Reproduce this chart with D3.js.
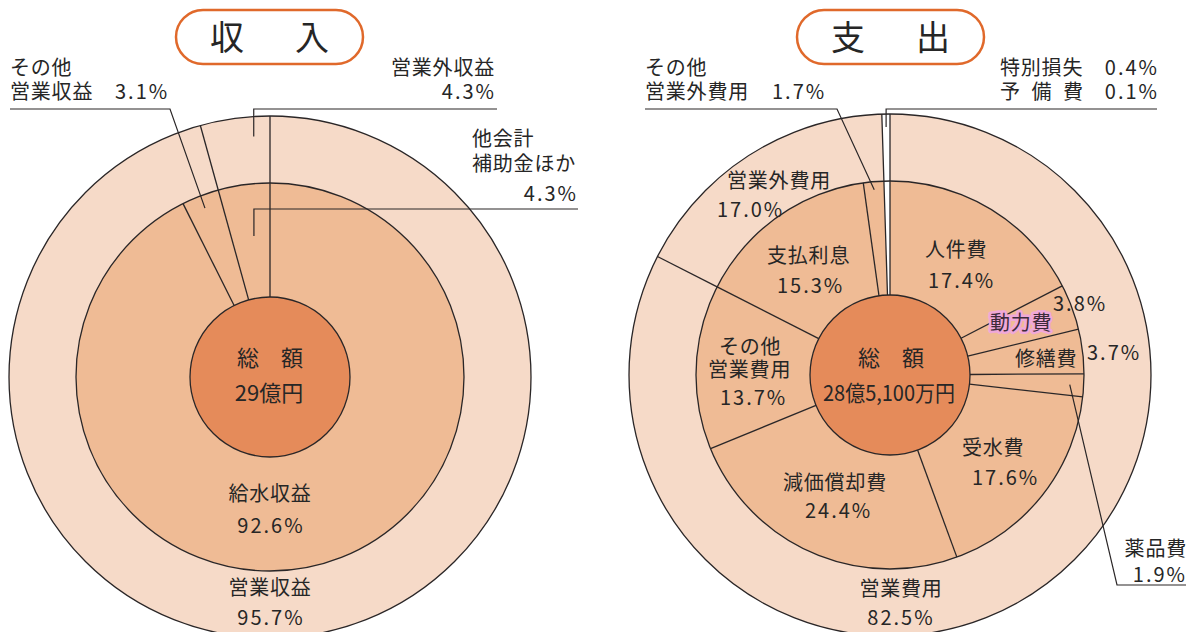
<!DOCTYPE html>
<html><head><meta charset="utf-8">
<script src="https://cdn.jsdelivr.net/npm/d3@7"></script>
<style>
body{margin:0;background:#fff}
svg{display:block}
text{font-family:"Noto Sans CJK JP","Noto Sans",sans-serif;fill:#262626}
</style>
</head><body>
<svg id="c" width="1187" height="632"></svg>
<script>
// ---------- data ----------
const titles = ["収　入", "支　出"];
const totalLabel = "総　額";
const totals = ["29億円", "28億5,100万円"];

const incomeInnerCats = ["給水収益", "その他営業収益", "他会計補助金ほか"];
const incomeInnerVals = [92.6, 3.1, 4.3];
const incomeOuterCats = ["営業収益", "営業外収益"];
const incomeOuterVals = [95.7, 4.3];

const expenseInnerCats = ["人件費", "動力費", "修繕費", "薬品費", "受水費", "減価償却費",
  "その他営業費用", "支払利息", "その他営業外費用", "特別損失", "予備費"];
const expenseInnerVals = [17.4, 3.8, 3.7, 1.9, 17.6, 24.4, 13.7, 15.3, 1.7, 0.4, 0.1];
const expenseOuterCats = ["営業費用", "営業外費用", "特別損失・予備費"];
const expenseOuterVals = [82.5, 17.0, 0.5];

// ---------- style ----------
const C_OUT = "#f6dac8", C_IN = "#efbb95", C_CTR = "#e58b5a", C_LINE = "#2a2627", C_TITLE = "#e0692b";
const R0 = 80, R1 = 194, R2 = 261;
const fmt = d3.format(".1f");
const pct = v => fmt(v) + "%";

const svg = d3.select("#c");

function polar(cx, cy, a, r) { return [cx + r * Math.sin(a), cy - r * Math.cos(a)]; }

function drawChart(cx, cy, inner, outer, blanks, noLine) {
  const g = svg.append("g");
  const pie = d3.pie().sort(null).value(d => d.v);
  const ia = pie(inner.cats.map((c, i) => ({c, v: inner.vals[i]})));
  const oa = pie(outer.cats.map((c, i) => ({c, v: outer.vals[i]})));
  const arcI = d3.arc().innerRadius(R0).outerRadius(R1);
  const arcO = d3.arc().innerRadius(R1).outerRadius(R2);
  const gg = g.append("g").attr("transform", `translate(${cx},${cy})`);
  gg.selectAll(".o").data(oa).join("path").attr("d", arcO)
    .attr("fill", d => blanks.includes(d.data.c) ? "#fff" : C_OUT);
  gg.selectAll(".i").data(ia).join("path").attr("d", arcI)
    .attr("fill", d => blanks.includes(d.data.c) ? "#fff" : C_IN);
  // boundaries
  const seg = (arcs, r0, r1) => arcs.filter(d => !noLine.includes(d.data.c)).forEach(d => {
    const p0 = polar(0, 0, d.startAngle, r0), p1 = polar(0, 0, d.startAngle, r1);
    gg.append("line").attr("x1", p0[0]).attr("y1", p0[1]).attr("x2", p1[0]).attr("y2", p1[1])
      .attr("stroke", C_LINE).attr("stroke-width", 1.3);
  });
  seg(ia, R0, R1);
  seg(oa, R1, R2);
  [R1, R2].forEach(r => gg.append("circle").attr("r", r).attr("fill", "none")
    .attr("stroke", C_LINE).attr("stroke-width", 1.3));
  gg.append("circle").attr("r", R0).attr("fill", C_CTR).attr("stroke", C_LINE).attr("stroke-width", 1.3);
  return {ia, oa, cx, cy};
}

function txt(x, y, s, o = {}) {
  const t = svg.append("text").attr("x", x).attr("y", y).text(s)
    .attr("font-size", o.size || 20)
    .attr("letter-spacing", o.ls !== undefined ? o.ls : 0.8)
    .attr("text-anchor", o.anchor || "start");
  if (o.len) t.attr("textLength", o.len).attr("lengthAdjust", "spacingAndGlyphs");
  return t;
}
const num = (x, y, v, o = {}) => txt(x, y, pct(v), Object.assign({ls: 2}, o));

function leader(pts) {
  svg.append("polyline").attr("points", pts.map(p => p.join(",")).join(" "))
    .attr("fill", "none").attr("stroke", C_LINE).attr("stroke-width", 1.2);
}
function midA(d, f = 0.5) { return d.startAngle + (d.endAngle - d.startAngle) * f; }

// ---------- titles ----------
[[176, 210], [797, 831]].forEach(([rx, tx], i) => {
  svg.append("rect").attr("x", rx).attr("y", 10).attr("width", 187).attr("height", 54)
    .attr("rx", 27).attr("fill", "#fff").attr("stroke", C_TITLE).attr("stroke-width", 2.5);
  txt(tx, 50, titles[i], {size: 34, ls: 8.5});
});

// ---------- income ----------
const inc = drawChart(270, 377,
  {cats: incomeInnerCats, vals: incomeInnerVals},
  {cats: incomeOuterCats, vals: incomeOuterVals}, [], []);

// leaders
{
  const pA = polar(inc.cx, inc.cy, midA(inc.ia[1], 0.5), 181);
  leader([[10, 109], [170, 109], pA]);
  const pB = polar(inc.cx, inc.cy, midA(inc.oa[1], 0.75), 241);
  leader([[497, 109], [pB[0], 109], pB]);
  const pC = polar(inc.cx, inc.cy, midA(inc.ia[2], 0.58), 142);
  leader([[578, 209], [pC[0], 209], pC]);
}
txt(10, 75, incomeInnerCats[1].slice(0, 3));
txt(10, 99, incomeInnerCats[1].slice(3));
num(115, 99, incomeInnerVals[1]);
txt(495, 75, incomeOuterCats[1], {anchor: "end"});
num(496, 99, incomeOuterVals[1], {anchor: "end"});
txt(472, 146, incomeInnerCats[2].slice(0, 3));
txt(472, 171, incomeInnerCats[2].slice(3));
num(578, 201, incomeInnerVals[2], {anchor: "end"});
txt(270, 366, totalLabel, {size: 22, ls: 0, anchor: "middle"});
txt(269, 401, totals[0], {size: 22, ls: 0, anchor: "middle"});
txt(270, 501, incomeInnerCats[0], {anchor: "middle"});
num(271, 533, incomeInnerVals[0], {anchor: "middle"});
txt(270, 595, incomeOuterCats[0], {anchor: "middle"});
num(271, 625, incomeOuterVals[0], {anchor: "middle"});

// ---------- expense ----------
const exp = drawChart(890, 375,
  {cats: expenseInnerCats, vals: expenseInnerVals},
  {cats: expenseOuterCats, vals: expenseOuterVals},
  ["特別損失", "予備費", "特別損失・予備費"], ["予備費"]);

{
  const pA = polar(exp.cx, exp.cy, midA(exp.ia[8]), 186);
  leader([[645, 109], [837, 109], pA]);
  const pB = polar(exp.cx, exp.cy, midA(exp.oa[2]), 248);
  leader([[1157, 109], [pB[0], 109], pB]);
  const pC = polar(exp.cx, exp.cy, midA(exp.ia[3]), 180);
  leader([pC, [1117, 585], [1186, 585]]);
}
txt(645, 75, expenseInnerCats[8].slice(0, 3));
txt(645, 99, expenseInnerCats[8].slice(3));
num(772, 99, expenseInnerVals[8]);
txt(1000, 75, expenseInnerCats[9]);
num(1159, 75, expenseInnerVals[9], {anchor: "end"});
txt(1000, 99, expenseInnerCats[10], {ls: 11.5});
num(1159, 99, expenseInnerVals[10], {anchor: "end"});

txt(727, 188, expenseOuterCats[1]);
num(717, 217, expenseOuterVals[1]);
txt(925, 257, expenseInnerCats[0]);
num(928, 288, expenseInnerVals[0]);
num(1053, 311, expenseInnerVals[1]);
txt(990, 330, expenseInnerCats[1])
  .attr("stroke", "#efa8d8").attr("stroke-width", 5).attr("stroke-linejoin", "round")
  .attr("paint-order", "stroke").style("fill", "#3d2b3a");
txt(1015, 366, expenseInnerCats[2]);
num(1087, 360, expenseInnerVals[2]);
txt(767, 263, expenseInnerCats[7]);
num(777, 293, expenseInnerVals[7]);
txt(719, 354, expenseInnerCats[6].slice(0, 3));
txt(708, 377, expenseInnerCats[6].slice(3));
num(720, 405, expenseInnerVals[6]);
txt(891, 366, totalLabel, {size: 22, ls: 0, anchor: "middle"});
txt(889, 401, totals[1], {size: 22, ls: 0, anchor: "middle", len: 132});
txt(783, 490, expenseInnerCats[5]);
num(805, 518, expenseInnerVals[5]);
txt(962, 455, expenseInnerCats[4]);
num(972, 485, expenseInnerVals[4]);
txt(1187, 556, expenseInnerCats[3], {anchor: "end"});
num(1187, 582, expenseInnerVals[3], {anchor: "end"});
txt(901, 596, expenseOuterCats[0], {anchor: "middle"});
num(901, 625, expenseOuterVals[0], {anchor: "middle"});
</script>
</body></html>
